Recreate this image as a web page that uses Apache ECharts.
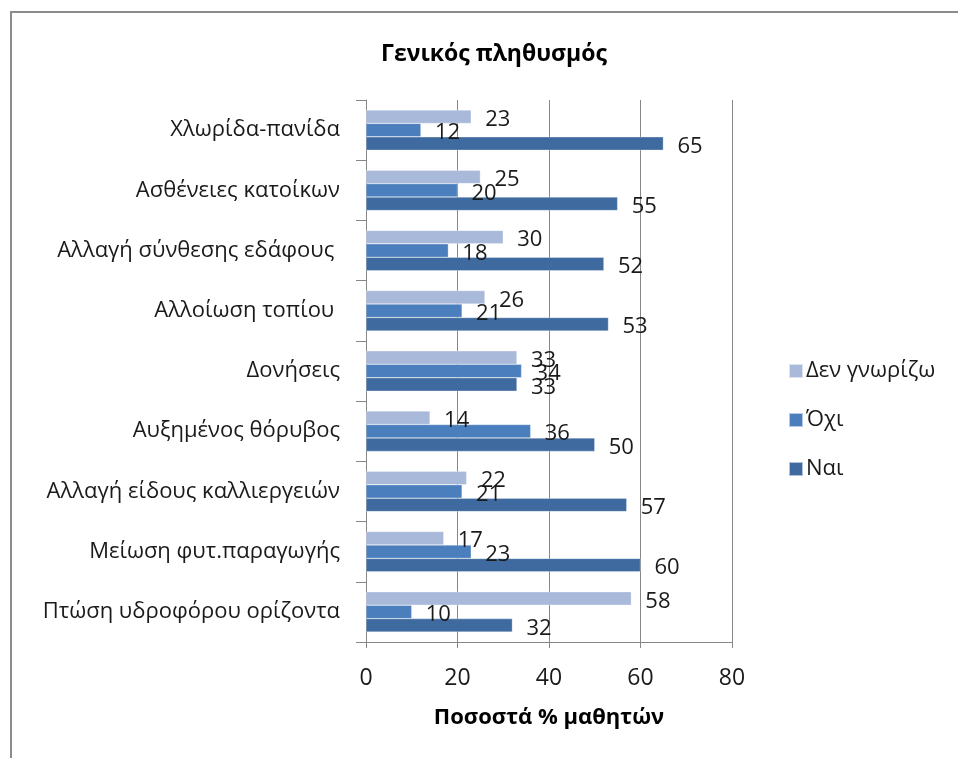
<!DOCTYPE html>
<html>
<head>
<meta charset="utf-8">
<script src="https://cdn.jsdelivr.net/npm/echarts@6/dist/echarts.min.js"></script>
<style>
  html, body { margin: 0; padding: 0; background: #fff; }
  #chart { width: 958px; height: 758px; }
</style>
</head>
<body>
<div id="chart"></div>
<script>
// categories listed top to bottom as in the picture
const categories = [
  'Χλωρίδα-πανίδα',
  'Ασθένειες κατοίκων',
  'Αλλαγή σύνθεσης εδάφους ',
  'Αλλοίωση τοπίου ',
  'Δονήσεις',
  'Αυξημένος θόρυβος',
  'Αλλαγή είδους καλλιεργειών',
  'Μείωση φυτ.παραγωγής',
  'Πτώση υδροφόρου ορίζοντα'
];
const dontKnow = [23, 25, 30, 26, 33, 14, 22, 17, 58];
const no = [12, 20, 18, 21, 34, 36, 21, 23, 10];
const yes = [65, 55, 52, 53, 33, 50, 57, 60, 32];
const xTicks = [0, 20, 40, 60, 80];

const fontFamily = '"Open Sans", "Noto Sans", sans-serif';
const gridColor = '#878787';

function makeSerie(name, data, color) {
  return {
    name: name,
    type: 'bar',
    data: data,
    barGap: '0%',
    barCategoryGap: '33%',
    itemStyle: { color: color, borderColor: 'rgba(255,255,255,0.6)', borderWidth: 0.5 },
    label: {
      show: true,
      position: 'right',
      distance: 14,
      offset: [0, 3],
      color: '#1a1a1a',
      fontSize: 22,
      fontFamily: fontFamily
    }
  };
}

var myChart = echarts.init(document.getElementById('chart'));
myChart.setOption({
  animation: false,
  title: {
    text: 'Γενικός πληθυσμός',
    left: 489,
    top: 38,
    textAlign: 'center',
    textStyle: { fontSize: 23, fontWeight: 'bold', color: '#000', fontFamily: fontFamily }
  },
  graphic: [{
    type: 'rect',
    shape: { x: 11, y: 12, width: 1000, height: 800 },
    style: { fill: 'none', stroke: '#8c8c8c', lineWidth: 2 }
  }],
  legend: {
    orient: 'vertical',
    left: 783,
    top: 355,
    itemWidth: 14,
    itemHeight: 14,
    itemGap: 27,
    icon: 'rect',
    data: ['Δεν γνωρίζω', 'Όχι', 'Ναι'],
    textStyle: { fontSize: 22, lineHeight: 22, color: '#1a1a1a', fontFamily: fontFamily, padding: [0, 0, 0, -2] }
  },
  grid: { left: 366, right: 226, top: 100, bottom: 116, containLabel: false },
  xAxis: {
    type: 'value',
    min: 0,
    max: 80,
    interval: 20,
    name: 'Ποσοστά % μαθητών',
    nameLocation: 'middle',
    nameGap: 65,
    nameTextStyle: { fontSize: 22, fontWeight: 'bold', color: '#000', fontFamily: fontFamily },
    axisLine: { show: true, lineStyle: { color: gridColor } },
    axisTick: { show: true, length: 6, lineStyle: { color: gridColor } },
    splitLine: { show: true, lineStyle: { color: gridColor } },
    axisLabel: {
      margin: 25,
      fontSize: 23,
      color: '#1a1a1a',
      fontFamily: fontFamily,
      formatter: function (v) { return xTicks.indexOf(v) >= 0 ? String(v) : ''; }
    }
  },
  yAxis: {
    type: 'category',
    inverse: true,
    data: categories,
    axisLine: { show: true, lineStyle: { color: gridColor } },
    axisTick: { show: true, length: 10, lineStyle: { color: gridColor } },
    axisLabel: { margin: 26, fontSize: 22, color: '#1a1a1a', fontFamily: fontFamily }
  },
  series: [
    makeSerie('Δεν γνωρίζω', dontKnow, '#a8b9da'),
    makeSerie('Όχι', no, '#4b7ebc'),
    makeSerie('Ναι', yes, '#3f6a9f')
  ]
});
</script>
</body>
</html>
